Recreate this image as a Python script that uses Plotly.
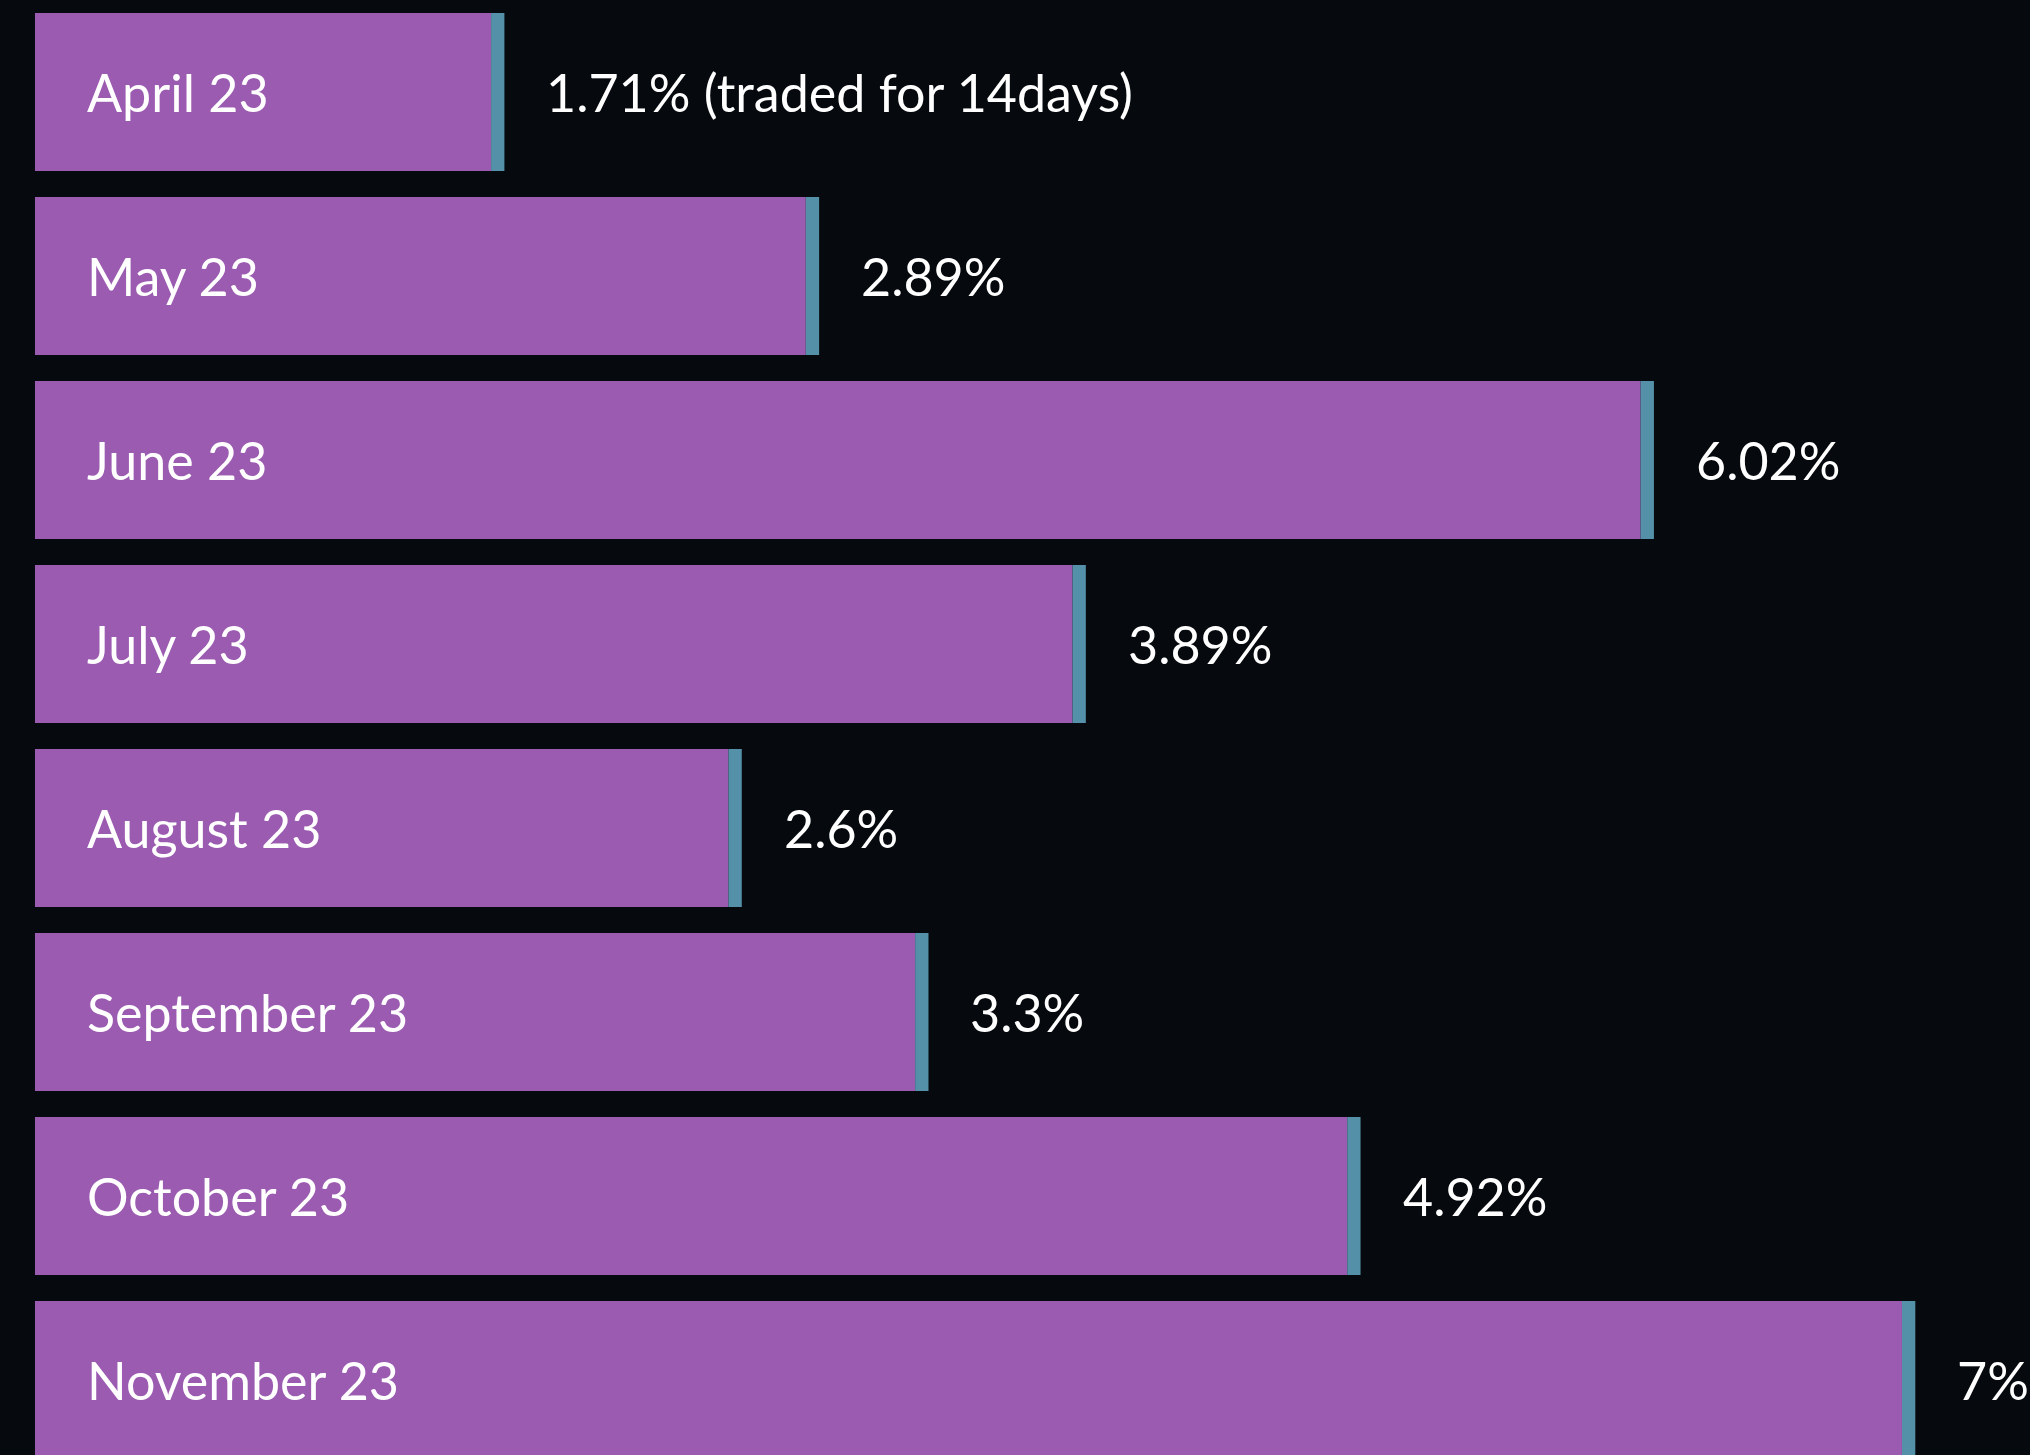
import plotly.graph_objects as go

months = ["April 23", "May 23", "June 23", "July 23", "August 23",
          "September 23", "October 23", "November 23"]
returns = [1.71, 2.89, 6.02, 3.89, 2.6, 3.3, 4.92, 7.0]
value_labels = ["1.71% (traded for 14days)", "2.89%", "6.02%", "3.89%",
                "2.6%", "3.3%", "4.92%", "7%"]

BG = "#060a0e"
PURPLE = "#9b5bb0"
TEAL = "#5490a8"
FONT = "Lato, 'Noto Sans', sans-serif"
CAP = 0.05  # width of the teal end cap in data units

fig = go.Figure()
fig.add_trace(go.Bar(
    y=months, x=returns, orientation="h",
    marker=dict(color=PURPLE, line=dict(width=0)),
    hoverinfo="skip", showlegend=False,
))
fig.add_trace(go.Bar(
    y=months, x=[CAP] * len(returns), base=returns,
    orientation="h",
    marker=dict(color=TEAL, line=dict(width=0)),
    hoverinfo="skip", showlegend=False,
))

for m, r, lab in zip(months, returns, value_labels):
    fig.add_annotation(x=0, y=m, text=m, showarrow=False, xanchor="left",
                       xshift=50, font=dict(family=FONT, size=52, color="white"))
    fig.add_annotation(x=r + CAP, y=m, text=lab, showarrow=False, xanchor="left",
                       xshift=40, font=dict(family=FONT, size=52, color="white"))

fig.update_layout(
    width=2030, height=1455,
    margin=dict(l=0, r=0, t=0, b=0),
    paper_bgcolor=BG, plot_bgcolor=BG,
    barmode="overlay", bargap=0.141,
    xaxis=dict(range=[-0.1312, 7.480], visible=False, showgrid=False,
               zeroline=False, fixedrange=True),
    yaxis=dict(type="category", categoryorder="array", categoryarray=months,
               range=[7.408, -0.5], visible=False, showgrid=False,
               fixedrange=True),
)

fig.write_html(
    "out.html",
    config={"displayModeBar": False},
    post_script="document.body.style.margin='0';document.body.style.overflow='hidden';document.body.style.background='#060a0e';",
)
